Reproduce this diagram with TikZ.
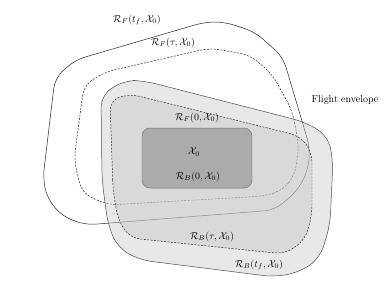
\documentclass[tikz,border=0pt]{standalone}
\usepackage{amsmath}

\begin{document}
\begin{tikzpicture}[x=1bp,y=-1bp,line width=0.5pt,
  setline/.style={draw=black!85,rounded corners=10bp},
  setdash/.style={setline,dash pattern=on 2pt off 1.4pt},
  setfill/.style={fill opacity=0.4}]
\useasboundingbox (0,0) rectangle (389,284);
% ---------- forward sets ----------
\draw[setline] (43,178) -- (55,78) -- (75,60) -- (205,22) -- (225,22) -- (255,32)
  -- (283,57) -- (310,148) -- (308,170) -- (298,190) -- (275,210) -- (85,225)
  -- (62,216) -- (47,198) -- cycle;
\draw[setdash] (74,160) -- (84,85) -- (105,72) -- (210,48) -- (250,55) -- (272,74)
  -- (292,110) -- (299,145) -- (295,175) -- (283,190) -- (265,196) -- (108,205)
  -- (82,193) -- cycle;
% ---------- backward sets (filled) ----------
\fill[setfill,fill=white!77.5!black,rounded corners=12bp] (102,180) -- (101,95)
  -- (125,80) -- (145,81) -- (305,122) -- (328,136) -- (333,160) -- (330,225)
  -- (320,258) -- (300,272) -- (275,277) -- (140,260) -- (118,248) -- (108,225) -- cycle;
\fill[setfill,fill=white!76!black,rounded corners=10bp] (113,190) -- (110,100)
  -- (130,94) -- (300,136) -- (312,152) -- (312,215) -- (305,240) -- (285,254)
  -- (130,238) -- (118,220) -- cycle;
\draw[setline,draw=black!70,rounded corners=12bp] (102,180) -- (101,95)
  -- (125,80) -- (145,81) -- (305,122) -- (328,136) -- (333,160) -- (330,225)
  -- (320,258) -- (300,272) -- (275,277) -- (140,260) -- (118,248) -- (108,225) -- cycle;
\draw[setdash] (113,190) -- (110,100)
  -- (130,94) -- (300,136) -- (312,152) -- (312,215) -- (305,240) -- (285,254)
  -- (130,238) -- (118,220) -- cycle;
% ---------- initial set ----------
\draw[draw=black!55,fill=white!67!black,rounded corners=8bp] (142,128) rectangle (252,188);
% ---------- labels ----------
\node (lblFtf) at (137,20) {$\mathcal{R}_F(t_f,\mathcal{X}_0)$};
\node (lblFtau) at (173,43) {$\mathcal{R}_F(\tau,\mathcal{X}_0)$};
\node (lblFzero) at (197,118) {$\mathcal{R}_F(0,\mathcal{X}_0)$};
\node (lblX) at (194,152) {$\mathcal{X}_0$};
\node (lblBzero) at (198,177) {$\mathcal{R}_B(0,\mathcal{X}_0)$};
\node (lblBtau) at (212,237) {$\mathcal{R}_B(\tau,\mathcal{X}_0)$};
\node (lblBtf) at (259,265) {$\mathcal{R}_B(t_f,\mathcal{X}_0)$};
\node (lblEnv) at (345,100) {Flight envelope};
\end{tikzpicture}
\end{document}
